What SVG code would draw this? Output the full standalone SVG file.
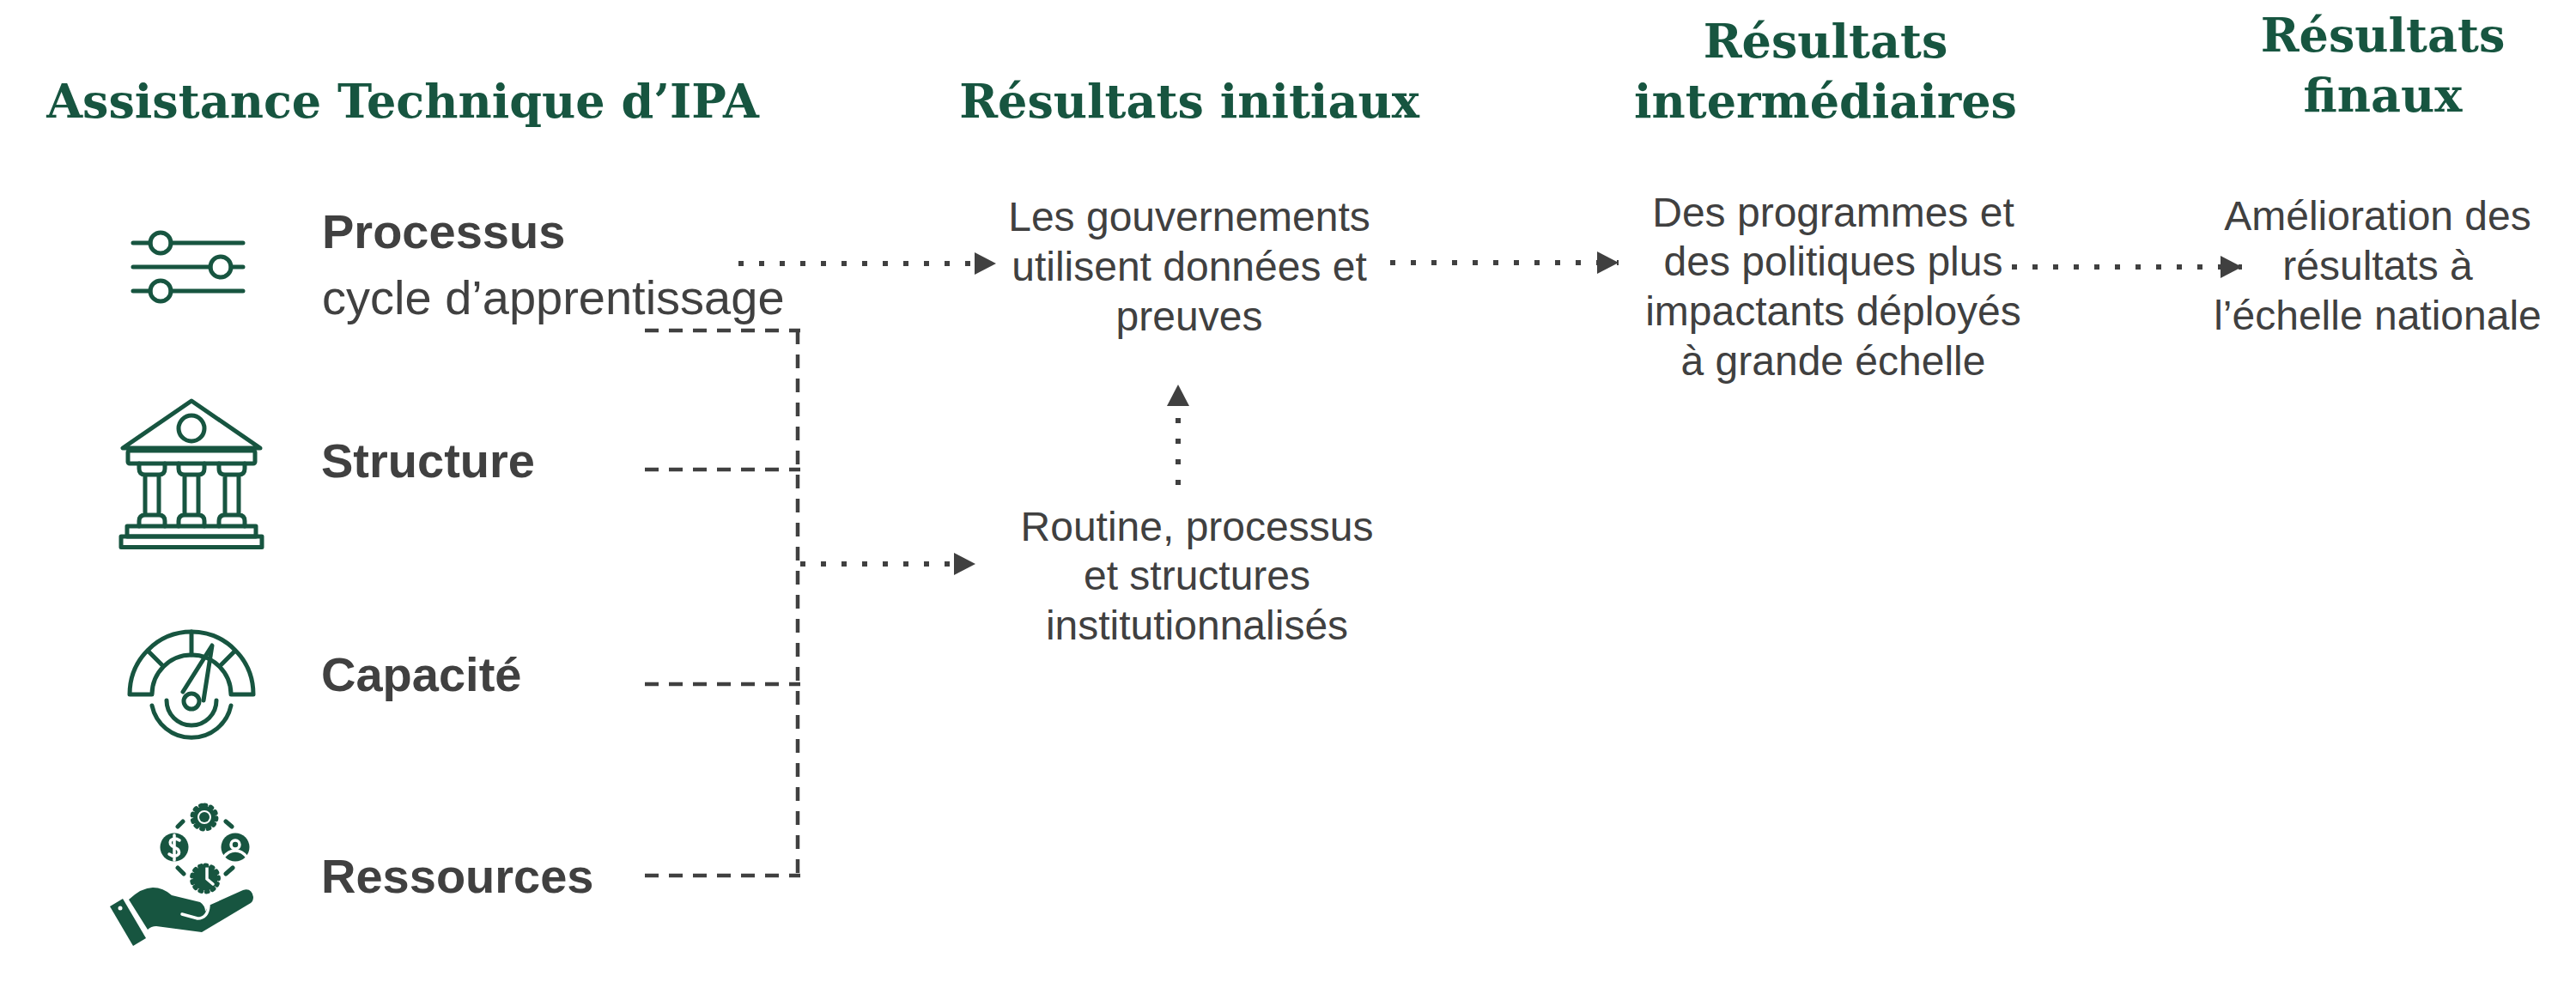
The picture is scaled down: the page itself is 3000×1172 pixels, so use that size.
<svg xmlns="http://www.w3.org/2000/svg" width="3000" height="1172" viewBox="0 0 3000 1172">
<style>
.t{font-family:"DejaVu Serif",serif;font-weight:700;font-size:54px;fill:#175540;text-anchor:middle}
.b{font-family:"Liberation Sans",Arial,sans-serif;font-size:48px;fill:#404040;text-anchor:middle}
.h{font-family:"Liberation Sans",Arial,sans-serif;font-weight:700;font-size:56px;fill:#404040}
.r{font-family:"Liberation Sans",Arial,sans-serif;font-size:56px;fill:#404040}
.i{fill:none;stroke:#175540;stroke-width:5;stroke-linecap:round;stroke-linejoin:round}
.f{fill:#175540}
.w{fill:none;stroke:#fff;stroke-width:3.500;stroke-linecap:round}
.dash{fill:none;stroke:#404040;stroke-width:4.5;stroke-dasharray:16 12}
.dot{fill:none;stroke:#404040;stroke-width:6;stroke-dasharray:6 18}
</style>
<defs><marker id="a" markerUnits="userSpaceOnUse" markerWidth="26" markerHeight="26" refX="25" refY="13" orient="auto"><path d="M0 0L25 13L0 26Z" fill="#404040"/></marker></defs>
<rect width="3000" height="1172" fill="#fff"/>
<g id="titles">
<text class="t" x="469" y="137">Assistance Technique d’IPA</text>
<text class="t" x="1385" y="137">Résultats initiaux</text>
<text class="t" x="2126" y="67">Résultats</text>
<text class="t" x="2126" y="137">intermédiaires</text>
<text class="t" x="2775" y="60">Résultats</text>
<text class="t" x="2775" y="130">finaux</text>
</g>
<g id="connectors">
<path class="dash" d="M751 385H932"/>
<path class="dash" d="M751 547H932"/>
<path class="dash" d="M751 797H932"/>
<path class="dash" d="M751 1020H932"/>
<path class="dash" d="M929 385V1020"/>
<path class="dot" d="M860 307H1160" marker-end="url(#a)"/>
<path class="dot" d="M932 657H1136" marker-end="url(#a)"/>
<path class="dot" d="M1619 306H1885" marker-end="url(#a)"/>
<path class="dot" d="M2343 311H2611" marker-end="url(#a)"/>
<path class="dot" d="M1372 565V448" marker-end="url(#a)"/>
</g>
<g id="node-processus">
<g class="i"><path d="M155 283H175M199 283H283M155 311H245M269 311H283M155 339H175M199 339H283"/><circle cx="187" cy="283" r="12"/><circle cx="257" cy="311" r="12"/><circle cx="187" cy="339" r="12"/></g>
<text class="h" x="375" y="289">Processus</text>
<text class="r" x="375" y="366">cycle d’apprentissage</text>
</g>
<g id="node-structure">
<g class="i"><path d="M223 467L143 522H303Z"/><circle cx="223" cy="499" r="15"/><rect x="149" y="525" width="148" height="15" rx="2"/>
<path d="M162 540V546Q162 553 169 553H185Q192 553 192 546V540M169 553V600M185 553V600M162 613V607Q162 600 169 600H185Q192 600 192 607V613"/>
<path d="M208 540V546Q208 553 215 553H231Q238 553 238 546V540M215 553V600M231 553V600M208 613V607Q208 600 215 600H231Q238 600 238 607V613"/>
<path d="M255 540V546Q255 553 262 553H278Q285 553 285 546V540M262 553V600M278 553V600M255 613V607Q255 600 262 600H278Q285 600 285 607V613"/>
<rect x="148" y="613" width="150" height="12"/><rect x="141" y="625" width="164" height="12.500"/></g>
<text class="h" x="374" y="556">Structure</text>
</g>
<g id="node-capacite">
<g class="i"><path d="M151 809A72 73 0 0 1 295 809H269A46 46 0 0 0 177 809Z"/><path d="M223 736V763M173 759L190 776M273 759L256 776M213 806L247 752L237 816"/><circle cx="223" cy="817" r="9"/><path d="M194 816A29 29 0 0 0 252 816M177 822A47 47 0 0 0 269 822"/></g>
<text class="h" x="374" y="805">Capacité</text>
</g>
<g id="node-ressources">
<g class="f"><circle cx="238" cy="952" r="6"/><circle cx="203" cy="987" r="16.500"/><circle cx="274" cy="987" r="16.500"/><circle cx="239" cy="1023" r="14.500"/>
<path d="M128 1056L143 1047L170 1093L155 1102Z"/>
<path d="M150 1048Q165 1034 178 1034Q190 1034 200 1043L233 1051Q239 1055 239 1062L243 1055L283 1037Q293 1034 295 1045Q295 1050 292 1052L235 1086L182 1079Q176 1079 172 1083Z"/></g>
<circle cx="140" cy="1058" r="2.500" fill="#fff"/>
<path class="w" d="M212 1065L230 1070Q242 1070 243 1055"/>
<path class="w" d="M209 979Q203 975 199 979Q196 984 203 987Q210 990 208 995Q204 1000 197 995M203 973V1002"/>
<circle cx="274" cy="984" r="5" class="w"/>
<path class="w" d="M260 999Q266 991 274 991Q282 991 288 999"/>
<path class="w" d="M241 1011V1024L248 1030"/>
<g class="i"><circle cx="238" cy="952" r="10.500"/><path stroke-dasharray="2 5.500" d="M238 938A14 14 0 1 1 237.900 938M239 1008A15.500 15.500 0 1 1 238.900 1008"/><path d="M207 963L213 957M263 957L270 963M207 1011L214 1018M263 1018L271 1011"/></g>
<text class="h" x="374" y="1040">Ressources</text>
</g>
<g id="node-initial-1">
<text class="b" x="1385" y="269">Les gouvernements</text>
<text class="b" x="1385" y="327">utilisent données et</text>
<text class="b" x="1385" y="385">preuves</text>
</g>
<g id="node-initial-2">
<text class="b" x="1394" y="630">Routine, processus</text>
<text class="b" x="1394" y="687">et structures</text>
<text class="b" x="1394" y="745">institutionnalisés</text>
</g>
<g id="node-intermediate">
<text class="b" x="2135" y="264">Des programmes et</text>
<text class="b" x="2135" y="321">des politiques plus</text>
<text class="b" x="2135" y="379">impactants déployés</text>
<text class="b" x="2135" y="437">à grande échelle</text>
</g>
<g id="node-final">
<text class="b" x="2769" y="268">Amélioration des</text>
<text class="b" x="2769" y="326">résultats à</text>
<text class="b" x="2769" y="384">l’échelle nationale</text>
</g>
</svg>
